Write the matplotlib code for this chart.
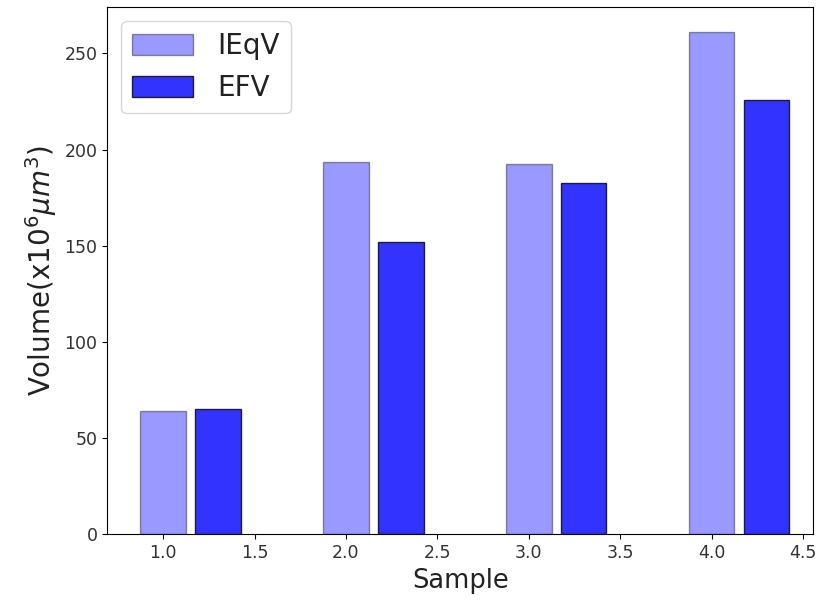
import matplotlib
matplotlib.use("Agg")
import matplotlib.pyplot as plt
import numpy as np

samples = [1, 2, 3, 4]
ieqv = [64.1, 193.7, 192.3, 260.9]
efv = [65.1, 152.0, 182.4, 225.7]

fig = plt.figure(figsize=(8.2, 6.01), dpi=100)
ax = fig.add_axes([0.1309, 0.111, 0.8606, 0.8769])

x = np.array(samples, dtype=float)
ax.bar(x, ieqv, width=0.25, color='blue', alpha=0.4, edgecolor='black', label='IEqV')
ax.bar(x + 0.3, efv, width=0.25, color='blue', alpha=0.8, edgecolor='black', label='EFV')

ax.set_xlim(0.695, 4.555)
ax.set_xticks([1.0, 1.5, 2.0, 2.5, 3.0, 3.5, 4.0, 4.5])
ax.set_yticks([0, 50, 100, 150, 200, 250])
ax.tick_params(labelsize=12.5, labelcolor='#333333')
ax.set_xlabel('Sample', fontsize=18.5, color='#222222')
ax.set_ylabel(r'Volume(x$10^6\mu m^3$)', fontsize=20, color='#222222')
leg = ax.legend(loc='upper left', fontsize=20, handlelength=2.2,
                handleheight=0.8, handletextpad=0.85)
for t in leg.get_texts():
    t.set_color('#222222')

fig.savefig('out.png', dpi=100)
